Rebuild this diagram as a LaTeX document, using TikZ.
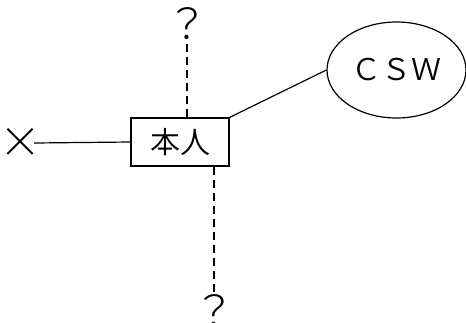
\documentclass[tikz,border=0pt]{standalone}
\usepackage{fontspec}
\newfontfamily\jp{Noto Sans CJK JP DemiLight}
\newfontfamily\jpthin{Noto Sans CJK JP Light}
\usetikzlibrary{shapes.geometric}
\tikzset{
  selfbox/.style={draw, line width=1.2pt, minimum width=98pt, minimum height=48pt, inner sep=0pt, font=\jp\fontsize{30}{30}\selectfont},
  helper/.style={draw, ellipse, line width=1.2pt, minimum width=139pt, minimum height=96pt, inner sep=0pt, font=\jp\fontsize{30}{30}\selectfont},
  sign/.style={inner sep=0pt, font=\jpthin\fontsize{42}{42}\selectfont},
  tie/.style={line width=1.2pt},
  unsure/.style={line width=1.2pt, dash pattern=on 8pt off 5pt}
}
\begin{document}
\begin{tikzpicture}[x=1pt, y=-1pt]
		%%%%% START %%%%%
		\useasboundingbox (0, 0) rectangle (466, 322);
		
		\node[selfbox] (self) at (180, 142) {本人};
		\node[helper] (csw) at (396.5, 70) {ＣＳＷ};
		\node[sign] (cut) at (20, 143) {×};
		\node[sign] (qup) at (187, 24) {？};
		\node[sign] (qdown) at (214, 311) {？};
		
		\draw[tie] ([xshift=-7pt]cut.east) -- (self.west);
		\draw[tie] (self.north east) -- (csw.west);
		
		\draw[unsure] (qup |- self.north) -- (qup.south);
		\draw[unsure] (qdown |- self.south) -- (qdown.north);
		
		%%%%% END %%%%%
	\end{tikzpicture}
\end{document}
